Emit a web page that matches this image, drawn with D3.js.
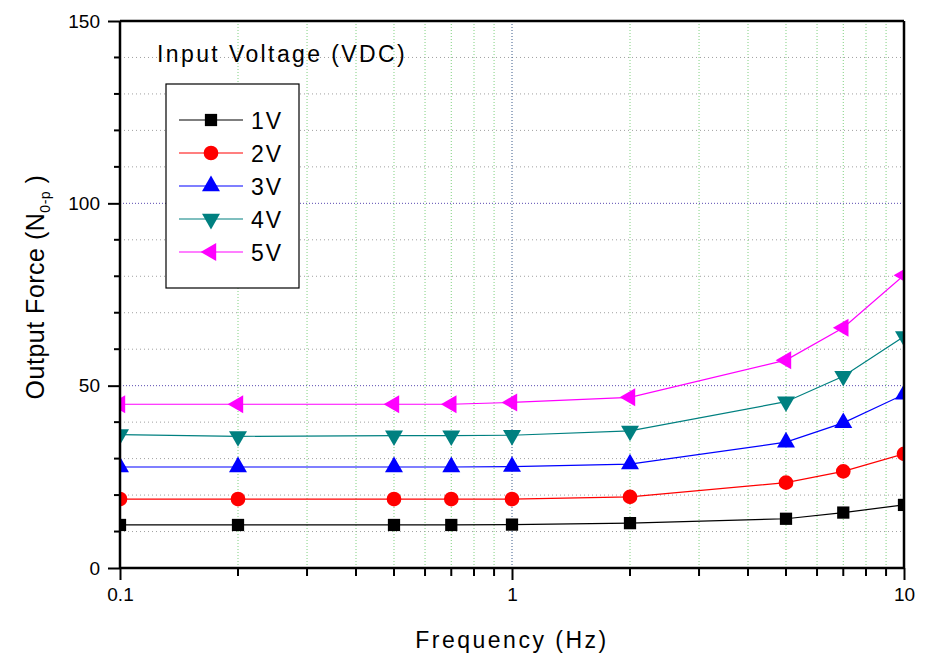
<!DOCTYPE html>
<html>
<head>
<meta charset="utf-8">
<script src="https://cdn.jsdelivr.net/npm/d3@7"></script>
<style>
  body { margin: 0; background: #fff; }
  svg { display: block; font-family: Arial, "Liberation Sans", sans-serif; }
</style>
</head>
<body>
<svg id="chart" width="930" height="660"></svg>
<script>
const frequencies = [0.1, 0.2, 0.5, 0.7, 1, 2, 5, 7, 10];
const force1V = [11.8, 11.8, 11.8, 11.8, 11.9, 12.3, 13.5, 15.2, 17.3];
const force2V = [18.9, 18.9, 18.9, 18.9, 18.9, 19.5, 23.4, 26.5, 31.3];
const force3V = [27.7, 27.7, 27.7, 27.7, 27.8, 28.5, 34.5, 39.8, 47.6];
const force4V = [36.6, 36.1, 36.3, 36.3, 36.4, 37.6, 45.6, 52.6, 63.5];
const force5V = [44.9, 44.9, 44.9, 44.9, 45.4, 46.8, 57.0, 65.9, 80.3];
const seriesNames = ["1V", "2V", "3V", "4V", "5V"];
const seriesColors = ["#000000", "#ff0000", "#0000ff", "#008080", "#ff00ff"];
const seriesSymbols = ["square", "circle", "triangleUp", "triangleDown", "triangleLeft"];
const xTickValues = [0.1, 1, 10];
const xTickLabels = ["0.1", "1", "10"];
const yTickValues = [0, 50, 100, 150];
const legendTitle = "Input Voltage (VDC)";
const xTitle = "Frequency (Hz)";

const allSeries = [force1V, force2V, force3V, force4V, force5V];

const svg = d3.select("#chart");
const pLeft = 120, pRight = 904, pTop = 21, pBottom = 568;

const x = d3.scaleLog().domain([0.1, 10]).range([pLeft, pRight]);
const y = d3.scaleLinear().domain([0, 150]).range([pBottom, pTop]);

const xMinor = [];
[0.1, 1].forEach(d => { for (let k = 2; k <= 9; k++) xMinor.push(+(d * k).toFixed(3)); });
const yMinor = d3.range(10, 150, 10).filter(v => v % 50 !== 0);

const grid = svg.append("g");
grid.selectAll(".vmin").data(xMinor).join("line")
  .attr("x1", d => x(d)).attr("x2", d => x(d)).attr("y1", pTop).attr("y2", pBottom)
  .attr("stroke", "#7fd07f").attr("stroke-width", 1).attr("stroke-dasharray", "1,2");
grid.selectAll(".hmin").data(yMinor).join("line")
  .attr("x1", pLeft).attr("x2", pRight).attr("y1", d => y(d)).attr("y2", d => y(d))
  .attr("stroke", "#a0a0a0").attr("stroke-width", 1).attr("stroke-dasharray", "1,3");
grid.selectAll(".vmaj").data([1]).join("line")
  .attr("x1", d => x(d)).attr("x2", d => x(d)).attr("y1", pTop).attr("y2", pBottom)
  .attr("stroke", "#3a5a8a").attr("stroke-width", 1).attr("stroke-dasharray", "1,2");
grid.selectAll(".hmaj").data([50, 100]).join("line")
  .attr("x1", pLeft).attr("x2", pRight).attr("y1", d => y(d)).attr("y2", d => y(d))
  .attr("stroke", "#5a4ab0").attr("stroke-width", 1).attr("stroke-dasharray", "1,2");

svg.append("clipPath").attr("id", "clip").append("rect")
  .attr("x", pLeft).attr("y", pTop).attr("width", pRight - pLeft).attr("height", pBottom - pTop);

const symMap = {
  square: d3.symbolSquare, circle: d3.symbolCircle,
  triangleUp: d3.symbolTriangle, triangleDown: d3.symbolTriangle, triangleLeft: d3.symbolTriangle
};
const rotMap = { square: 0, circle: 0, triangleUp: 0, triangleDown: 180, triangleLeft: -90 };
const sizeMap = { square: 150, circle: 170, triangleUp: 140, triangleDown: 140, triangleLeft: 140 };
function symPath(s) { return d3.symbol().type(symMap[s]).size(sizeMap[s])(); }

const plot = svg.append("g").attr("clip-path", "url(#clip)");
const line = d3.line().x((d, i) => x(frequencies[i])).y(d => y(d));

allSeries.forEach((vals, si) => {
  plot.append("path").datum(vals).attr("d", line)
    .attr("fill", "none").attr("stroke", seriesColors[si]).attr("stroke-width", 1.2);
});
allSeries.forEach((vals, si) => {
  const sym = seriesSymbols[si];
  plot.selectAll(".m" + si).data(vals).join("path")
    .attr("d", symPath(sym))
    .attr("transform", (d, i) => `translate(${x(frequencies[i])},${y(d)}) rotate(${rotMap[sym]})`)
    .attr("fill", seriesColors[si]);
});

svg.append("line").attr("x1", pLeft).attr("x2", pRight).attr("y1", pTop).attr("y2", pTop)
  .attr("stroke", "#000").attr("stroke-width", 2.5);
svg.append("line").attr("x1", pRight).attr("x2", pRight).attr("y1", pTop).attr("y2", pBottom)
  .attr("stroke", "#000").attr("stroke-width", 2.5);

const yAxis = d3.axisLeft(y).tickValues(yTickValues).tickFormat(d3.format("d")).tickSize(12).tickPadding(8);
const gy = svg.append("g").attr("transform", `translate(${pLeft},0)`).call(yAxis);
gy.selectAll(".tick line").attr("stroke-width", 2);
gy.selectAll(".tick text").attr("font-size", 19).attr("fill", "#000").attr("font-family", "Arial, 'Liberation Sans', sans-serif");
gy.select(".domain").attr("stroke-width", 2.5).attr("d", `M0,${pTop}V${pBottom}`);
gy.selectAll(".ymin").data(yMinor).join("line")
  .attr("x1", -6).attr("x2", 0).attr("y1", d => y(d)).attr("y2", d => y(d))
  .attr("stroke", "#000").attr("stroke-width", 2);

const xAxis = d3.axisBottom(x).tickValues(xTickValues).tickFormat((d, i) => xTickLabels[i]).tickSize(12).tickPadding(8);
const gx = svg.append("g").attr("transform", `translate(0,${pBottom})`).call(xAxis);
gx.selectAll(".tick line").attr("stroke-width", 2);
gx.selectAll(".tick text").attr("font-size", 19).attr("fill", "#000").attr("font-family", "Arial, 'Liberation Sans', sans-serif");
gx.select(".domain").attr("stroke-width", 2.5).attr("d", `M${pLeft},0H${pRight}`);
gx.selectAll(".xmin").data(xMinor).join("line")
  .attr("x1", d => x(d)).attr("x2", d => x(d)).attr("y1", 0).attr("y2", 8)
  .attr("stroke", "#000").attr("stroke-width", 2);

svg.append("text").attr("x", 512).attr("y", 648).attr("text-anchor", "middle")
  .attr("font-size", 23).attr("letter-spacing", 2.5).attr("fill", "#000").text(xTitle);

const yt = svg.append("text").attr("transform", "translate(44,287) rotate(-90)")
  .attr("text-anchor", "middle").attr("font-size", 25).attr("letter-spacing", 0.5).attr("fill", "#000");
yt.append("tspan").text("Output Force (N");
yt.append("tspan").attr("font-size", 14).attr("dy", 6).text("0-p");
yt.append("tspan").attr("dy", -6).text(" )");

svg.append("text").attr("x", 157).attr("y", 62).attr("font-size", 23).attr("letter-spacing", 2.4)
  .attr("fill", "#000").text(legendTitle);
svg.append("rect").attr("x", 166).attr("y", 84).attr("width", 133).attr("height", 204)
  .attr("fill", "#fff").attr("stroke", "#000").attr("stroke-width", 1.2);
const lg = svg.append("g");
seriesNames.forEach((name, i) => {
  const ly = 120 + i * 33;
  lg.append("line").attr("x1", 179).attr("x2", 243).attr("y1", ly).attr("y2", ly)
    .attr("stroke", seriesColors[i]).attr("stroke-width", 1.2);
  lg.append("path").attr("d", symPath(seriesSymbols[i]))
    .attr("transform", `translate(211,${ly}) rotate(${rotMap[seriesSymbols[i]]})`)
    .attr("fill", seriesColors[i]);
  lg.append("text").attr("x", 251).attr("y", ly + 8.5).attr("font-size", 23).attr("letter-spacing", 2)
    .attr("fill", "#000").text(name);
});
</script>
</body>
</html>
